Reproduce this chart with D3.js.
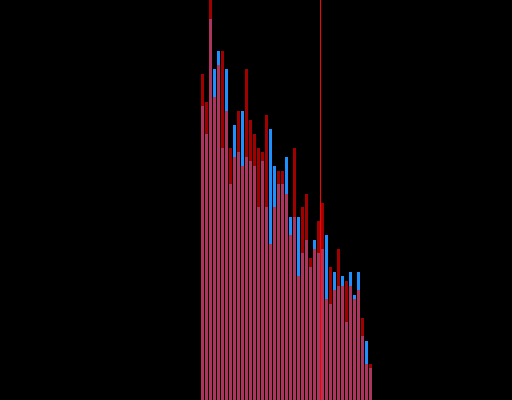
<!DOCTYPE html>
<html>
<head>
<meta charset="utf-8">
<script src="https://cdn.jsdelivr.net/npm/d3@7"></script>
<style>
  html, body { margin: 0; padding: 0; background: #000; }
  svg { display: block; background: #000; }
</style>
</head>
<body>
<svg id="svg" width="512" height="400"></svg>
<script>
var svg = d3.select("#svg"),
    width = +svg.attr("width"),
    height = +svg.attr("height");

// bin start values (histogram bins, width 1)
var bins = d3.range(50, 93);

// counts per bin for the two series
var blueCounts = [73.5, 66.5, 95.25, 82.75, 87.25, 63, 82.75, 54, 68.75, 62,
    72.25, 60.75, 59.75, 58.5, 48.25, 59.75, 48.25, 67.75, 58.5, 54,
    54, 60.75, 45.75, 45.75, 45.75, 36.75, 40, 33.25, 40, 36.75,
    37.75, 41.25, 24, 32, 28.5, 31, 19.5, 32, 26.25, 32,
    16, 14.75, 8];
var redCounts = [81.5, 74.5, 102, 75.75, 83.75, 87.25, 72.25, 63, 60.75, 72.25,
    58.5, 82.75, 70, 66.5, 63, 62, 71.25, 39, 48.25, 57.25,
    57.25, 51.5, 41.25, 63, 31, 48.25, 51.5, 35.5, 37.75, 44.75,
    49.25, 25.25, 33.25, 27.5, 37.75, 28.5, 29.75, 28.5, 25.25, 27.5,
    20.5, 9, 9];

// marker line
var markValue = 80;

var x = d3.scaleLinear()
    .domain([0, 128])
    .range([0, width]);

var y = d3.scaleLinear()
    .domain([0, 100])
    .range([height, 0]);

function drawSeries(counts, cls, fill, opacity) {
  svg.append("g")
      .attr("class", cls)
    .selectAll("rect")
    .data(bins.map(function(b, i) { return { x0: b, x1: b + 1, n: counts[i] }; }))
    .enter().append("rect")
      .attr("x", function(d) { return x(d.x0) + 1; })
      .attr("width", function(d) { return x(d.x1) - x(d.x0) - 1; })
      .attr("y", function(d) { return y(d.n); })
      .attr("height", function(d) { return height - y(d.n); })
      .attr("fill", fill)
      .attr("fill-opacity", opacity);
}

drawSeries(blueCounts, "blue", "#1e90ff", 1);
drawSeries(redCounts, "red", "#ff0000", 0.63);

svg.append("line")
    .attr("x1", x(markValue) + 0.5)
    .attr("x2", x(markValue) + 0.5)
    .attr("y1", 0)
    .attr("y2", height)
    .attr("stroke", "#ff0000")
    .attr("stroke-width", 1);
</script>
</body>
</html>
